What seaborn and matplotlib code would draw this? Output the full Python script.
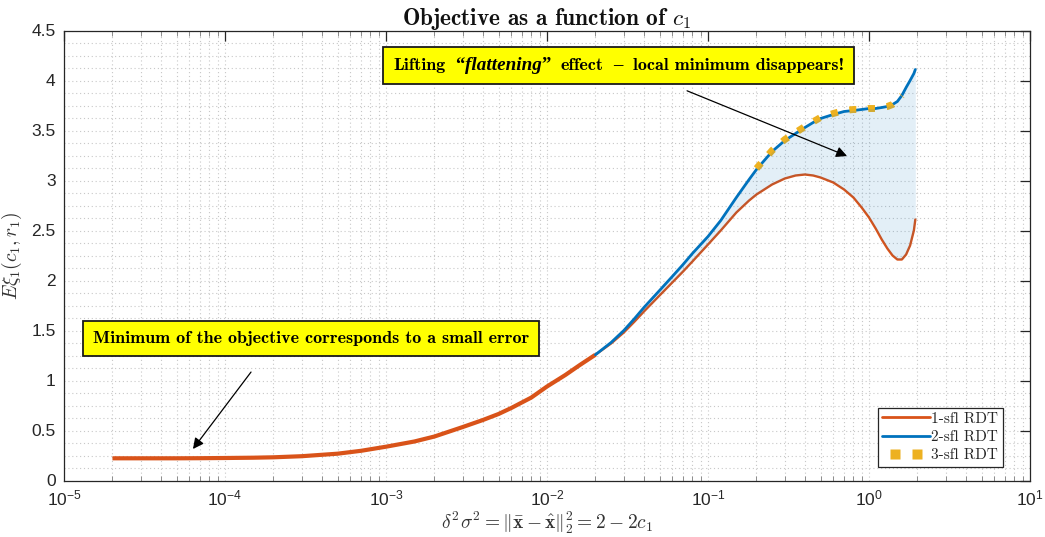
import numpy as np
import pandas as pd
import matplotlib
matplotlib.use("Agg")
import matplotlib.pyplot as plt
import seaborn as sns
from matplotlib.lines import Line2D
from matplotlib.legend_handler import HandlerLine2D
from matplotlib.ticker import FixedLocator, LogLocator, MultipleLocator, NullFormatter
from matplotlib.offsetbox import TextArea, HPacker, DrawingArea, AnnotationBbox

# ---------------- data ----------------
x_low = [2e-5, 3e-5, 5e-5, 7e-5, 1e-4, 1.5e-4, 2e-4, 3e-4, 5e-4, 7e-4, 1e-3, 1.5e-3,
         2e-3, 3e-3, 4e-3, 5e-3, 6e-3, 8e-3, 1e-2, 1.3e-2, 1.6e-2, 2e-2]
sfl1_low = [0.222, 0.222, 0.222, 0.223, 0.225, 0.228, 0.232, 0.243, 0.268, 0.297, 0.338, 0.39,
            0.44, 0.535, 0.605, 0.665, 0.725, 0.83, 0.94, 1.055, 1.155, 1.258]

x_high = [0.02, 0.025, 0.03, 0.035, 0.04, 0.05, 0.06, 0.07, 0.08, 0.1, 0.12, 0.15, 0.18, 0.2,
          0.25, 0.3, 0.35, 0.4, 0.45, 0.5, 0.6, 0.7, 0.8, 0.9, 1.0, 1.1, 1.2, 1.3, 1.4, 1.5,
          1.6, 1.7, 1.8, 1.9, 1.94]
sfl1_high = [1.258, 1.37, 1.48, 1.59, 1.69, 1.85, 1.98, 2.09, 2.19, 2.36, 2.50, 2.68, 2.80, 2.86,
             2.96, 3.02, 3.05, 3.06, 3.05, 3.03, 2.98, 2.91, 2.83, 2.73, 2.63, 2.52, 2.41, 2.32,
             2.25, 2.21, 2.21, 2.26, 2.35, 2.50, 2.61]
sfl2_high = [1.258, 1.38, 1.50, 1.62, 1.73, 1.90, 2.04, 2.16, 2.27, 2.44, 2.60, 2.83, 3.01, 3.11,
             3.29, 3.40, 3.47, 3.53, 3.58, 3.62, 3.66, 3.69, 3.70, 3.71, 3.72, 3.72, 3.73, 3.74,
             3.76, 3.79, 3.85, 3.93, 4.00, 4.07, 4.11]

x_sfl3 = [0.2, 0.25, 0.3, 0.35, 0.4, 0.5, 0.6, 0.7, 0.8, 0.9, 1.0, 1.1, 1.2, 1.3, 1.4, 1.5, 1.6]
sfl3 = [3.12, 3.30, 3.41, 3.48, 3.54, 3.63, 3.67, 3.70, 3.71, 3.71, 3.72, 3.72, 3.73, 3.74,
        3.76, 3.80, 3.85]

series_labels = ["1-sfl RDT", "2-sfl RDT", "3-sfl RDT"]
x_ticks = [1e-5, 1e-4, 1e-3, 1e-2, 1e-1, 1e0, 1e1]
x_ticklabels = [r"$\mathregular{10^{-5}}$", r"$\mathregular{10^{-4}}$", r"$\mathregular{10^{-3}}$",
                r"$\mathregular{10^{-2}}$", r"$\mathregular{10^{-1}}$", r"$\mathregular{10^{0}}$",
                r"$\mathregular{10^{1}}$"]
y_ticks = [0, 0.5, 1, 1.5, 2, 2.5, 3, 3.5, 4, 4.5]
y_ticklabels = ["0", "0.5", "1", "1.5", "2", "2.5", "3", "3.5", "4", "4.5"]

title_text = r"Objective as a function of $c_1$"
# pieces of the upper note: (text, style); None = word space
note_top_parts = [("Lifting", "b"), None, ("\u201c", "q"), ("flattening", "bi"), ("\u201d", "q"),
                  None, ("effect", "b"), None, ("\u2013", "q"), None,
                  ("local minimum disappears!", "b")]
note_bottom = "Minimum of the objective corresponds to a small error"
xlabel_text = r"$\delta^2\sigma^2 = \|\bar{\mathbf{x}} - \hat{\mathbf{x}}\|_2^2 = 2 - 2c_1$"
ylabel_text = r"$E\xi_1(c_1, r_1)$"

C_ORANGE = "#D95319"
C_BLUE = "#0072BD"
C_YELLOW = "#EDB120"

# ---------------- style ----------------
sns.set_theme(style="white")
plt.rcParams["font.family"] = ["Liberation Sans", "DejaVu Sans"]
plt.rcParams["mathtext.fontset"] = "cm"
plt.rcParams["axes.unicode_minus"] = True

fig = plt.figure(figsize=(10.45, 5.37), dpi=100)
ax = fig.add_axes([64 / 1045, (537 - 480.5) / 537, 966 / 1045, 450 / 537])

df_low = pd.DataFrame({"x": x_low, "y": sfl1_low})
df_high = pd.DataFrame({"x": x_high, "y1": sfl1_high, "y2": sfl2_high})
df_3 = pd.DataFrame({"x": x_sfl3, "y": sfl3})

sns.lineplot(data=df_low, x="x", y="y", ax=ax, color=C_ORANGE, lw=3.0, zorder=4,
             solid_capstyle="butt")
sns.lineplot(data=df_high, x="x", y="y1", ax=ax, color=C_ORANGE, lw=1.7, zorder=4)
sns.lineplot(data=df_high, x="x", y="y2", ax=ax, color=C_BLUE, lw=2.0, zorder=5)
sns.lineplot(data=df_3, x="x", y="y", ax=ax, color=C_YELLOW, lw=5.0, zorder=6,
             linestyle=(0, (1.0, 1.7)), dash_capstyle="butt")

ax.fill_between(df_high["x"], df_high["y1"], df_high["y2"], color=C_BLUE, alpha=0.11,
                lw=0, zorder=7)

ax.set_xscale("log")
ax.set_xlim(1e-5, 1e1)
ax.set_ylim(0, 4.5)

ax.xaxis.set_major_locator(FixedLocator(x_ticks))
ax.set_xticklabels(x_ticklabels)
ax.xaxis.set_minor_locator(LogLocator(base=10, subs=np.arange(2, 10), numticks=20))
ax.xaxis.set_minor_formatter(NullFormatter())
ax.yaxis.set_major_locator(FixedLocator(y_ticks))
ax.set_yticklabels(y_ticklabels)
ax.yaxis.set_minor_locator(MultipleLocator(0.125))

ax.tick_params(axis="both", which="major", direction="in", length=7, width=0.9,
               colors="#262626", labelsize=12.5, top=True, right=True, pad=6)
ax.tick_params(axis="x", which="minor", direction="in", length=3.5, width=0.7,
               color="#8c8c8c", top=True, bottom=True)
ax.tick_params(axis="y", which="minor", length=0, left=False, right=False)
ax.tick_params(axis="x", which="major", pad=6)

ax.grid(True, which="both", linestyle=(0, (1, 2.5)), color="#c8c8c8", lw=0.8)
ax.set_axisbelow(True)

for s in ax.spines.values():
    s.set_visible(True)
    s.set_color("#262626")
    s.set_linewidth(0.9)

ax.set_title(title_text, fontfamily="cmb10", fontsize=16.8, pad=4, color="#111111")
ax.set_xlabel(xlabel_text, fontsize=14, labelpad=1, color="#333333")
ax.set_ylabel(ylabel_text, fontsize=14, labelpad=5, color="#333333")

NOTE_SIZE = 13
styles = {
    "b": dict(family="cmb10", size=NOTE_SIZE, color="black"),
    "bi": dict(family="Liberation Serif", size=NOTE_SIZE + 0.8, weight="bold", style="italic",
               color="black"),
    "q": dict(family="Liberation Serif", size=NOTE_SIZE + 0.5, weight="bold", color="black"),
}
space_pt = 0.55 * NOTE_SIZE


def make_note(parts):
    children = []
    for p in parts:
        if p is None:
            children.append(DrawingArea(space_pt, 1))
        else:
            children.append(TextArea(p[0], textprops=styles[p[1]]))
    return HPacker(children=children, pad=0, sep=0, align="baseline")


box = dict(boxstyle="square,pad=0.55", facecolor="#FFFF00", edgecolor="#1a1a1a", lw=1.3)
ab1 = AnnotationBbox(make_note(note_top_parts), (0.574, 0.923), xycoords="axes fraction",
                     box_alignment=(0.5, 0.5), frameon=True, bboxprops=box,
                     zorder=10, fontsize=NOTE_SIZE)
ax.add_artist(ab1)
ab2 = AnnotationBbox(make_note([(note_bottom, "b")]), (0.256, 0.3156), xycoords="axes fraction",
                     box_alignment=(0.5, 0.5), frameon=True, bboxprops=box,
                     zorder=10, fontsize=NOTE_SIZE)
ax.add_artist(ab2)

arrow = dict(arrowstyle="-|>", color="black", lw=0.9, mutation_scale=16,
             shrinkA=0, shrinkB=0)
ax.annotate("", xy=(0.8106, 0.721), xytext=(0.645, 0.866), xycoords="axes fraction",
            arrowprops=arrow, zorder=10)
ax.annotate("", xy=(0.1335, 0.070), xytext=(0.1936, 0.241), xycoords="axes fraction",
            arrowprops=arrow, zorder=10)

h_yellow = Line2D([], [], color=C_YELLOW, ls="none", marker="s", ms=6.5, mec="none")
leg_handles = [
    Line2D([], [], color=C_ORANGE, lw=2.0),
    Line2D([], [], color=C_BLUE, lw=2.0),
    h_yellow,
]
leg = ax.legend(leg_handles, series_labels, loc="lower right", bbox_to_anchor=(0.972, 0.03),
                borderaxespad=0, frameon=True, fancybox=False, framealpha=1,
                edgecolor="#262626", prop={"family": "cmr10", "size": 11},
                handlelength=3.1, handletextpad=0.1, labelspacing=0.3, borderpad=0.3,
                handler_map={h_yellow: HandlerLine2D(numpoints=2, marker_pad=0.85)})
leg.get_frame().set_linewidth(0.9)
leg.set_zorder(12)

fig.savefig("out.png", dpi=100)
